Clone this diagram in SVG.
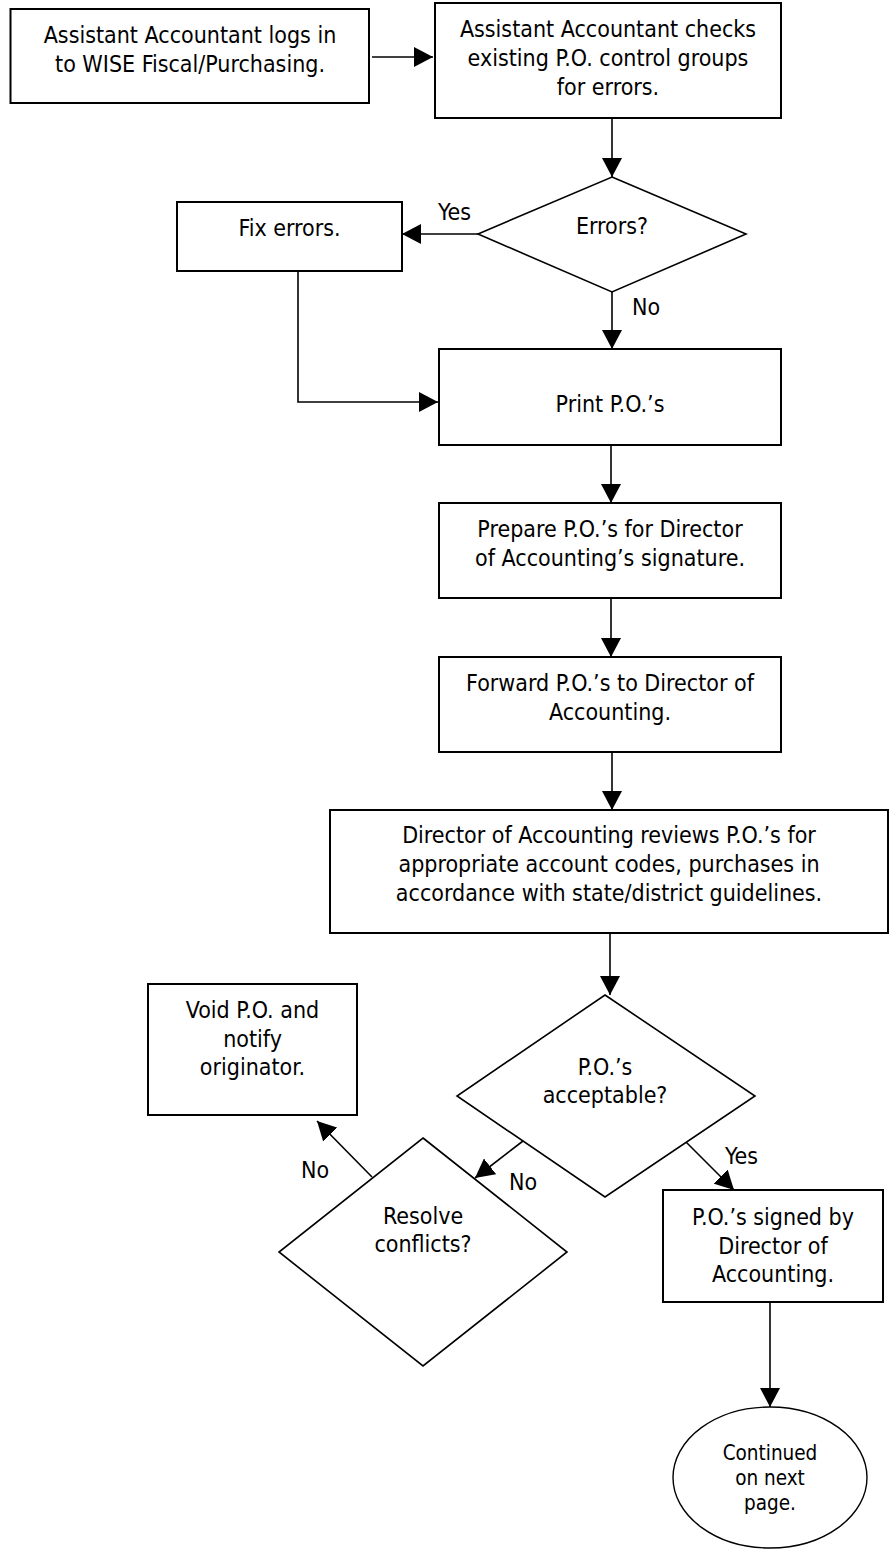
<svg xmlns="http://www.w3.org/2000/svg" width="891" height="1554" viewBox="0 0 891 1554">
<defs>
<marker id="ah" markerWidth="20" markerHeight="20" refX="19" refY="10" orient="auto" markerUnits="userSpaceOnUse">
<path d="M0,0 L19,10 L0,20 z" fill="#000"/>
</marker>
<style>
.box{fill:#fff;stroke:#000;stroke-width:2}
.dia{fill:#fff;stroke:#000;stroke-width:1.6}
.ell{fill:#fff;stroke:#000;stroke-width:1.4}
.t{font-family:"DejaVu Sans Condensed","DejaVu Sans",sans-serif;font-stretch:condensed;font-size:23px;fill:#000;text-anchor:middle}
.s{font-family:"DejaVu Sans Condensed","DejaVu Sans",sans-serif;font-stretch:condensed;font-size:20.5px;fill:#000;text-anchor:middle}
.l{font-family:"DejaVu Sans Condensed","DejaVu Sans",sans-serif;font-stretch:condensed;font-size:23px;fill:#000}
.c{fill:none;stroke:#000;stroke-width:1.6}
.ca{fill:none;stroke:#000;stroke-width:1.6;marker-end:url(#ah)}
</style>
</defs>
<rect width="891" height="1554" fill="#fff"/>

<g id="connectors">
<line class="ca" x1="372" y1="57" x2="433" y2="57"/>
<line class="ca" x1="612" y1="118" x2="612" y2="177"/>
<line class="ca" x1="478" y1="234" x2="402" y2="234"/>
<polyline class="ca" points="298,271 298,402 438,402"/>
<line class="ca" x1="612" y1="292" x2="612" y2="349"/>
<line class="ca" x1="611" y1="445" x2="611" y2="503"/>
<line class="ca" x1="611" y1="598" x2="611" y2="657"/>
<line class="ca" x1="612" y1="752" x2="612" y2="810"/>
<line class="ca" x1="610" y1="933" x2="610" y2="995"/>
<line class="ca" x1="523" y1="1141" x2="475" y2="1178"/>
<line class="ca" x1="372" y1="1177" x2="317" y2="1121"/>
<line class="ca" x1="686" y1="1142" x2="734" y2="1190"/>
<line class="ca" x1="770" y1="1303" x2="770" y2="1407"/>
<text class="l" x="438" y="220">Yes</text>
<text class="l" x="632" y="315">No</text>
<text class="l" x="509" y="1190">No</text>
<text class="l" x="301" y="1178">No</text>
<text class="l" x="725" y="1164">Yes</text>
</g>

<g id="n1">
<rect class="box" x="10.5" y="9" width="358.5" height="94"/>
<text class="t" x="190" y="43">Assistant Accountant logs in</text>
<text class="t" x="190" y="72">to WISE Fiscal/Purchasing.</text>
</g>

<g id="n2">
<rect class="box" x="435" y="3" width="346" height="115"/>
<text class="t" x="608" y="37">Assistant Accountant checks</text>
<text class="t" x="608" y="66">existing P.O. control groups</text>
<text class="t" x="608" y="94.5">for errors.</text>
</g>

<g id="n3">
<polygon class="dia" points="612,177 746,234 612,292 478,234"/>
<text class="t" x="612" y="234">Errors?</text>
</g>

<g id="n4">
<rect class="box" x="177" y="202" width="225" height="69"/>
<text class="t" x="289.5" y="236">Fix errors.</text>
</g>

<g id="n5">
<rect class="box" x="439" y="349" width="342" height="96"/>
<text class="t" x="610" y="412">Print P.O.’s</text>
</g>

<g id="n6">
<rect class="box" x="439" y="503" width="342" height="95"/>
<text class="t" x="610" y="537">Prepare P.O.’s for Director</text>
<text class="t" x="610" y="566">of Accounting’s signature.</text>
</g>

<g id="n7">
<rect class="box" x="439" y="657" width="342" height="95"/>
<text class="t" x="610" y="691">Forward P.O.’s to Director of</text>
<text class="t" x="610" y="719.5">Accounting.</text>
</g>

<g id="n8">
<rect class="box" x="330" y="810" width="558" height="123"/>
<text class="t" x="609" y="843">Director of Accounting reviews P.O.’s for</text>
<text class="t" x="609" y="872">appropriate account codes, purchases in</text>
<text class="t" x="609" y="901">accordance with state/district guidelines.</text>
</g>

<g id="n9">
<polygon class="dia" points="605,995 755,1096 605,1197 457,1096"/>
<text class="t" x="605" y="1075">P.O.’s</text>
<text class="t" x="605" y="1103">acceptable?</text>
</g>

<g id="n10">
<rect class="box" x="148" y="984" width="209" height="131"/>
<text class="t" x="252.5" y="1018">Void P.O. and</text>
<text class="t" x="252.5" y="1047">notify</text>
<text class="t" x="252.5" y="1075">originator.</text>
</g>

<g id="n11">
<polygon class="dia" points="423,1138 567,1252 423,1366 279,1252"/>
<text class="t" x="423" y="1224">Resolve</text>
<text class="t" x="423" y="1252">conflicts?</text>
</g>

<g id="n12">
<rect class="box" x="663" y="1190" width="220" height="112"/>
<text class="t" x="773" y="1225">P.O.’s signed by</text>
<text class="t" x="773" y="1253.5">Director of</text>
<text class="t" x="773" y="1282">Accounting.</text>
</g>

<g id="n13">
<ellipse class="ell" cx="770" cy="1477.5" rx="97" ry="70.5"/>
<text class="s" x="770" y="1460">Continued</text>
<text class="s" x="770" y="1485">on next</text>
<text class="s" x="770" y="1510">page.</text>
</g>
</svg>
